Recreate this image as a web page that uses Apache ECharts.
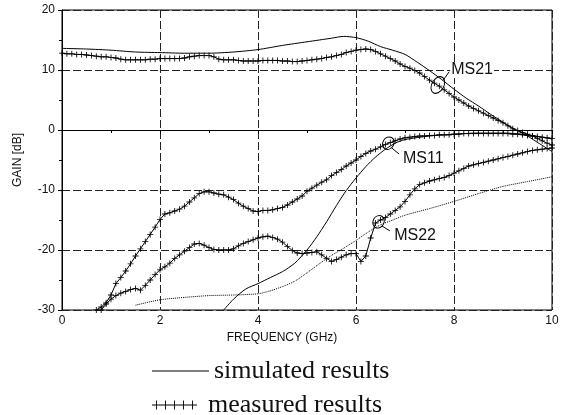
<!DOCTYPE html>
<html>
<head>
<meta charset="utf-8">
<title>GAIN vs FREQUENCY</title>
<script src="https://cdn.jsdelivr.net/npm/echarts@6/dist/echarts.min.js"></script>
<style>
html,body{margin:0;padding:0;background:#fff;}
#chart{width:567px;height:415px;}
</style>
</head>
<body>
<div id="chart"></div>
<script>
//axis ticks
var xTicks=[0,2,4,6,8,10];
var yTicks=[-30,-20,-10,0,10,20];

//measured points every 0.1 GHz (index i -> i/10 GHz)
var ms21Meas=[
	12.8,12.7,12.7,12.6,12.6,12.5,12.4,12.3,12.2,12.2,
	12.1,12.0,11.8,11.7,11.7,11.7,11.7,11.7,11.8,11.8,
	11.9,11.9,11.9,11.9,11.9,12.0,12.2,12.3,12.4,12.4,
	12.4,12.2,11.8,11.7,11.7,11.7,11.6,11.5,11.5,11.5,
	11.5,11.6,11.6,11.6,11.6,11.5,11.5,11.4,11.4,11.5,
	11.6,11.7,11.8,11.9,12.1,12.2,12.4,12.6,12.9,13.1,
	13.3,13.4,13.5,13.4,13.1,12.7,12.3,11.9,11.5,11.0,
	10.6,10.3,9.9,9.5,8.9,8.3,7.8,7.3,6.7,6.1,
	5.5,5.0,4.5,4.0,3.6,3.2,2.8,2.4,2.0,1.6,
	1.2,0.7,0.2,-0.1,-0.4,-0.7,-1.0,-1.4,-1.8,-2.2,
	-2.5
];
var ms11Meas=[
	null,null,null,null,null,null,null,-30.0,-29.5,-28.8,
	-27.5,-25.6,-24.6,-23.5,-22.3,-21.0,-19.8,-18.6,-17.4,-16.2,
	-14.9,-14.0,-13.8,-13.5,-13.2,-12.7,-12.0,-11.3,-10.6,-10.3,
	-10.3,-10.5,-10.7,-10.8,-11.2,-11.6,-12.2,-12.7,-13.1,-13.5,
	-13.6,-13.4,-13.4,-13.3,-13.1,-12.9,-12.5,-12.0,-11.5,-11.0,
	-10.2,-9.7,-9.2,-8.7,-8.3,-7.6,-7.1,-6.6,-6.0,-5.5,
	-5.0,-4.4,-3.9,-3.5,-3.2,-2.8,-2.4,-2.1,-1.8,-1.5,
	-1.3,-1.2,-1.1,-1.0,-1.0,-0.9,-0.9,-0.8,-0.8,-0.8,
	-0.7,-0.7,-0.6,-0.6,-0.6,-0.6,-0.6,-0.6,-0.6,-0.6,
	-0.6,-0.6,-0.7,-0.7,-0.8,-0.9,-1.0,-1.1,-1.2,-1.3,
	-1.4
];
var ms22Meas=[
	null,null,null,null,null,null,null,null,-30.0,-29.0,
	-28.2,-27.6,-27.2,-26.9,-26.6,-26.4,-26.7,-25.9,-25.0,-24.1,
	-23.3,-22.8,-22.2,-21.4,-20.8,-20.2,-19.6,-19.0,-18.9,-19.2,
	-19.6,-19.9,-20.0,-20.0,-20.0,-19.8,-19.3,-18.9,-18.6,-18.3,
	-18.0,-17.8,-17.7,-17.9,-18.2,-18.7,-19.4,-20.1,-20.5,-20.6,
	-20.5,-20.4,-20.3,-20.8,-21.4,-21.9,-21.6,-21.2,-20.8,-20.6,
	-20.6,-21.9,-21.0,-18.0,-15.5,-15.0,-14.6,-14.0,-13.4,-12.8,
	-11.9,-10.8,-9.8,-9.1,-8.8,-8.5,-8.3,-8.1,-7.9,-7.6,
	-7.2,-6.8,-6.4,-6.0,-5.8,-5.6,-5.4,-5.2,-5.0,-4.8,
	-4.6,-4.4,-4.2,-4.0,-3.8,-3.6,-3.4,-3.3,-3.2,-3.1,
	-3.0
];

//simulated curves
var ms21SimFreq=[0,0.5,1,1.5,2,2.5,3,3.5,4,4.5,5,5.5,5.75,6,6.25,6.5,6.75,7,7.25,7.5,7.75,8,8.25,8.5,8.75,9,9.25,9.5,9.75,10];
var ms21Sim=[13.6,13.5,13.3,13.0,12.9,12.8,12.8,13.0,13.4,14.1,14.7,15.3,15.6,15.4,14.8,13.9,13.3,12.6,11.3,9.9,8.4,6.8,5.3,4.0,2.6,1.3,0.1,-1.0,-2.3,-3.6];
var ms11SimFreq=[3.3,3.5,3.75,4,4.25,4.5,4.75,5,5.2,5.4,5.6,5.8,6,6.2,6.4,6.6,6.8,7,7.5,8,8.5,9,9.5,10];
var ms11Sim=[-30,-28.2,-26.5,-25.6,-24.6,-23.6,-22.2,-20.0,-17.8,-15.3,-12.6,-10.1,-8.0,-6.1,-4.5,-3.2,-2.2,-1.6,-1.0,-0.7,-0.5,-0.5,-0.8,-1.5];
var ms22SimFreq=[1.5,2,2.5,3,3.5,4,4.25,4.5,4.75,5,5.25,5.5,5.75,6,6.25,6.5,6.75,7,7.5,8,8.5,9,9.5,10];
var ms22Sim=[-29.2,-28.3,-27.9,-27.6,-27.5,-27.3,-26.8,-26.1,-25.2,-23.8,-22.3,-20.9,-19.7,-18.4,-17.0,-15.8,-15.0,-14.2,-13.1,-11.9,-10.6,-9.4,-8.6,-7.8];

//curve labels: name, circle point, leader line end
var tagNames=['MS21','MS11','MS22'];
var tagPoints=[[7.67,7.5],[6.66,-2.2],[6.46,-15.3]];
var tagLeads=[[[7.78,8.3],[7.9,9.7]],[[6.73,-3.0],[6.88,-4.0]],[[6.53,-16.0],[6.69,-16.8]]];

var SIM='simulated results';
var MEAS='measured results';
//small filled plus sign
var PLUS='path://M4.3,0H5.7V4.3H10V5.7H5.7V10H4.3V5.7H0V4.3H4.3Z';
var PLUS5='path://M4.5,0H5.5V4.5H14.5V0H15.5V4.5H24.5V0H25.5V4.5H34.5V0H35.5V4.5H44.5V0H45.5V4.5H50V5.5H45.5V10H44.5V5.5H35.5V10H34.5V5.5H25.5V10H24.5V5.5H15.5V10H14.5V5.5H5.5V10H4.5V5.5H0V4.5H4.5Z';
var SANS='Liberation Sans';

function pairs(xs,ys){
	var out=[];
	for(var i=0;i<xs.length;i++){
		out.push([xs[i],ys[i]===null?'-':ys[i]]);
	}
	return out;
}

function measFreq(n){
	var f=[];
	for(var i=0;i<n;i++){f.push(i/10);}
	return f;
}

//circle + label + leader for one curve
function tag(k){
	var offs=[[-3,-15],[0,15],[1,14]];
	var sizes=[[12,18],[11,13],[11,13]];
	return {
		markPoint:{
			silent:true,
			symbol:'circle',
			symbolSize:sizes[k],
			symbolRotate:-30,
			itemStyle:{color:'rgba(0,0,0,0)',borderColor:'#000',borderWidth:1},
			label:{
				show:true,position:'right',offset:offs[k],
				formatter:tagNames[k],color:'#111',fontSize:16,fontFamily:SANS,
				backgroundColor:'#fff',padding:[0,1]
			},
			data:[{coord:tagPoints[k]}]
		},
		markLine:{
			silent:true,
			symbol:['none','none'],
			label:{show:false},
			lineStyle:{color:'#000',width:1,type:'solid'},
			data:[[{coord:tagLeads[k][0]},{coord:tagLeads[k][1]}]]
		}
	};
}

function simSeries(xs,ys,dotted){
	return {
		name:SIM,type:'line',data:pairs(xs,ys),
		showSymbol:false,smooth:0.25,
		lineStyle:{color:'#000',width:1,type:dotted?'dotted':'solid'},
		itemStyle:{color:'#000'},z:3
	};
}

function measSeries(ys,k){
	var s={
		name:MEAS,type:'line',data:pairs(measFreq(ys.length),ys),
		symbol:PLUS,symbolSize:6,showSymbol:true,showAllSymbol:true,
		lineStyle:{color:'#000',width:1},
		itemStyle:{color:'#000',borderWidth:0},z:4
	};
	var t=tag(k);
	s.markPoint=t.markPoint;
	s.markLine=t.markLine;
	return s;
}

//one legend row
function legendRow(name,icon,top){
	return {
		left:147,top:top,itemWidth:57,itemHeight:9,selectedMode:false,
		textStyle:{fontFamily:'Liberation Serif',fontSize:26,color:'#111'},
		data:[{name:name,icon:icon}]
	};
}

function loadChart(){
	var myChart=echarts.init(document.getElementById('chart'));
	var axisLine={show:true,lineStyle:{color:'#000',width:1}};
	var grid={show:true,lineStyle:{color:'#222',width:1,type:[8,3]}};
	var option={
		animation:false,
		backgroundColor:'#fff',
		grid:{left:62,right:15,top:10,bottom:105,show:true,borderColor:'#000',borderWidth:1},
		legend:[
			legendRow(SIM,'path://M0,4H50V5H0Z',353),
			legendRow(MEAS,PLUS5,387)
		],
		xAxis:{
			type:'value',min:xTicks[0],max:xTicks[xTicks.length-1],interval:xTicks[1]-xTicks[0],
			axisLine:axisLine,
			axisTick:{show:true,length:4,lineStyle:{color:'#000'}},
			minorTick:{show:true,splitNumber:2,length:3,lineStyle:{color:'#000'}},
			splitLine:grid,
			axisLabel:{fontSize:12,color:'#111',margin:5,fontFamily:SANS},
			name:'FREQUENCY (GHz)',nameLocation:'middle',nameGap:18,
			nameTextStyle:{fontSize:12,color:'#111',fontFamily:SANS,padding:[0,50,0,0]}
		},
		yAxis:{
			type:'value',min:yTicks[0],max:yTicks[yTicks.length-1],interval:yTicks[1]-yTicks[0],
			axisLine:axisLine,
			axisTick:{show:true,length:4,lineStyle:{color:'#000'}},
			minorTick:{show:true,splitNumber:2,length:3,lineStyle:{color:'#000'}},
			splitLine:grid,
			axisLabel:{fontSize:12,color:'#111',margin:7,fontFamily:SANS},
			name:'GAIN [dB]',nameLocation:'middle',nameGap:38,
			nameTextStyle:{fontSize:12,color:'#111',fontFamily:SANS}
		},
		series:[
			simSeries(ms21SimFreq,ms21Sim,false),
			simSeries(ms11SimFreq,ms11Sim,false),
			simSeries(ms22SimFreq,ms22Sim,true),
			measSeries(ms21Meas,0),
			measSeries(ms11Meas,1),
			measSeries(ms22Meas,2)
		]
	};
	myChart.setOption(option);
}
loadChart();
</script>
</body>
</html>
